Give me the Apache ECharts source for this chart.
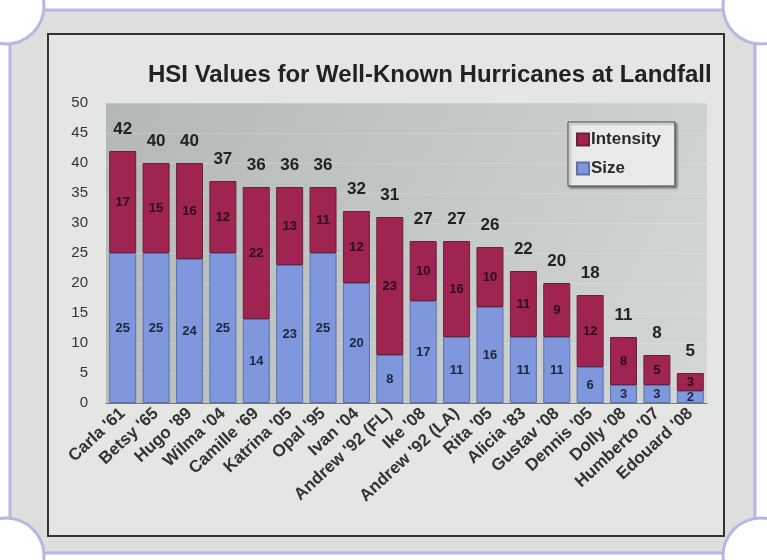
<!DOCTYPE html>
<html>
<head>
<meta charset="utf-8">
<script src="https://cdn.jsdelivr.net/npm/echarts@6/dist/echarts.min.js"></script>
<style>
html, body { margin: 0; padding: 0; background: #ffffff; }
#chart { width: 767px; height: 560px; }
</style>
</head>
<body>
<div id="chart"></div>
<script>
// hurricane names and HSI parts
var storms = ["Carla '61", "Betsy '65", "Hugo '89", "Wilma '04", "Camille '69", "Katrina '05",
    "Opal '95", "Ivan '04", "Andrew '92 (FL)", "Ike '08", "Andrew '92 (LA)", "Rita '05",
    "Alicia '83", "Gustav '08", "Dennis '05", "Dolly '08", "Humberto '07", "Edouard '08"];
var sizeVals = [25, 25, 24, 25, 14, 23, 25, 20, 8, 17, 11, 16, 11, 11, 6, 3, 3, 2];
var intensityVals = [17, 15, 16, 12, 22, 13, 11, 12, 23, 10, 16, 10, 11, 9, 12, 8, 5, 3];
var totals = [42, 40, 40, 37, 36, 36, 36, 32, 31, 27, 27, 26, 22, 20, 18, 11, 8, 5];
var yTicks = [0, 5, 10, 15, 20, 25, 30, 35, 40, 45, 50];

var font = "'Liberation Sans', Arial, sans-serif";
var edge = '#b4b8e2';

var chart = echarts.init(document.getElementById('chart'));
chart.setOption({
    backgroundColor: '#ffffff',
    animation: false,
    textStyle: {fontFamily: font},
    graphic: [
        // photo frame
        {type: 'rect', z: -20, silent: true,
            shape: {x: 10, y: 10, width: 745, height: 543},
            style: {fill: '#dcdfdc', stroke: edge, lineWidth: 3}},
        {type: 'circle', z: -19, silent: true, shape: {cx: 6, cy: 6, r: 38}, style: {fill: '#fff', stroke: edge, lineWidth: 3}},
        {type: 'circle', z: -19, silent: true, shape: {cx: 761, cy: 6, r: 38}, style: {fill: '#fff', stroke: edge, lineWidth: 3}},
        {type: 'circle', z: -19, silent: true, shape: {cx: 6, cy: 556, r: 38}, style: {fill: '#fff', stroke: edge, lineWidth: 3}},
        {type: 'circle', z: -19, silent: true, shape: {cx: 761, cy: 556, r: 38}, style: {fill: '#fff', stroke: edge, lineWidth: 3}},
        // chart area border
        {type: 'rect', z: -18, silent: true,
            shape: {x: 48, y: 34, width: 676, height: 502},
            style: {fill: '#e3e6e3', stroke: '#333', lineWidth: 2}}
    ],
    title: {
        text: 'HSI Values for Well-Known Hurricanes at Landfall',
        left: 143,
        top: 58,
        textStyle: {fontSize: 24, fontWeight: 'bold', color: '#222', fontFamily: font}
    },
    legend: {
        data: ['Intensity', 'Size'],
        orient: 'vertical',
        left: 568,
        top: 122,
        padding: [9, 14, 9, 8],
        itemGap: 12,
        itemWidth: 12,
        itemHeight: 12,
        icon: 'rect',
        backgroundColor: '#e9ebe9',
        borderColor: '#444',
        borderWidth: 1,
        shadowColor: 'rgba(0,0,0,0.35)',
        shadowOffsetX: 2,
        shadowOffsetY: 2,
        shadowBlur: 2,
        textStyle: {fontSize: 17, fontWeight: 'bold', color: '#2a2a2a', padding: [0, 0, 0, -3]}
    },
    grid: {
        left: 106,
        right: 60,
        top: 103,
        bottom: 157,
        show: true,
        borderWidth: 0,
        backgroundColor: new echarts.graphic.LinearGradient(0, 0, 1, 1, [
            {offset: 0, color: '#b3b8b7'},
            {offset: 1, color: '#d3d7d5'}
        ])
    },
    xAxis: {
        type: 'category',
        data: storms,
        axisTick: {show: false},
        axisLine: {lineStyle: {color: '#777'}},
        axisLabel: {
            interval: 0,
            rotate: 43,
            margin: 8,
            fontSize: 17,
            fontWeight: 'bold',
            color: '#333'
        }
    },
    yAxis: {
        type: 'value',
        min: yTicks[0],
        max: yTicks[yTicks.length - 1],
        interval: 5,
        axisLine: {show: false},
        axisTick: {show: false},
        splitLine: {show: true, lineStyle: {color: 'rgba(255,255,255,0.18)'}},
        axisLabel: {fontSize: 15, color: '#333', margin: 18}
    },
    series: [
        {
            name: 'Size',
            type: 'bar',
            stack: 'hsi',
            barWidth: 27,
            data: sizeVals,
            itemStyle: {color: '#7f97dd', borderColor: '#5f6fa8', borderWidth: 1},
            label: {show: true, position: 'inside', fontSize: 13, fontWeight: 'bold', color: '#1c2440'}
        },
        {
            name: 'Intensity',
            type: 'bar',
            stack: 'hsi',
            barWidth: 27,
            data: intensityVals,
            itemStyle: {color: '#a02451', borderColor: '#6a2038', borderWidth: 1},
            label: {show: true, position: 'inside', fontSize: 13, fontWeight: 'bold', color: '#2a0e18'},
            markPoint: {
                symbol: 'circle',
                symbolSize: 0,
                data: totals.map(function (t, i) {
                    return {coord: [i, t], value: t};
                }),
                label: {
                    show: true,
                    position: 'top',
                    distance: 13,
                    fontSize: 17,
                    fontWeight: 'bold',
                    color: '#222'
                }
            }
        }
    ]
});
</script>
</body>
</html>
